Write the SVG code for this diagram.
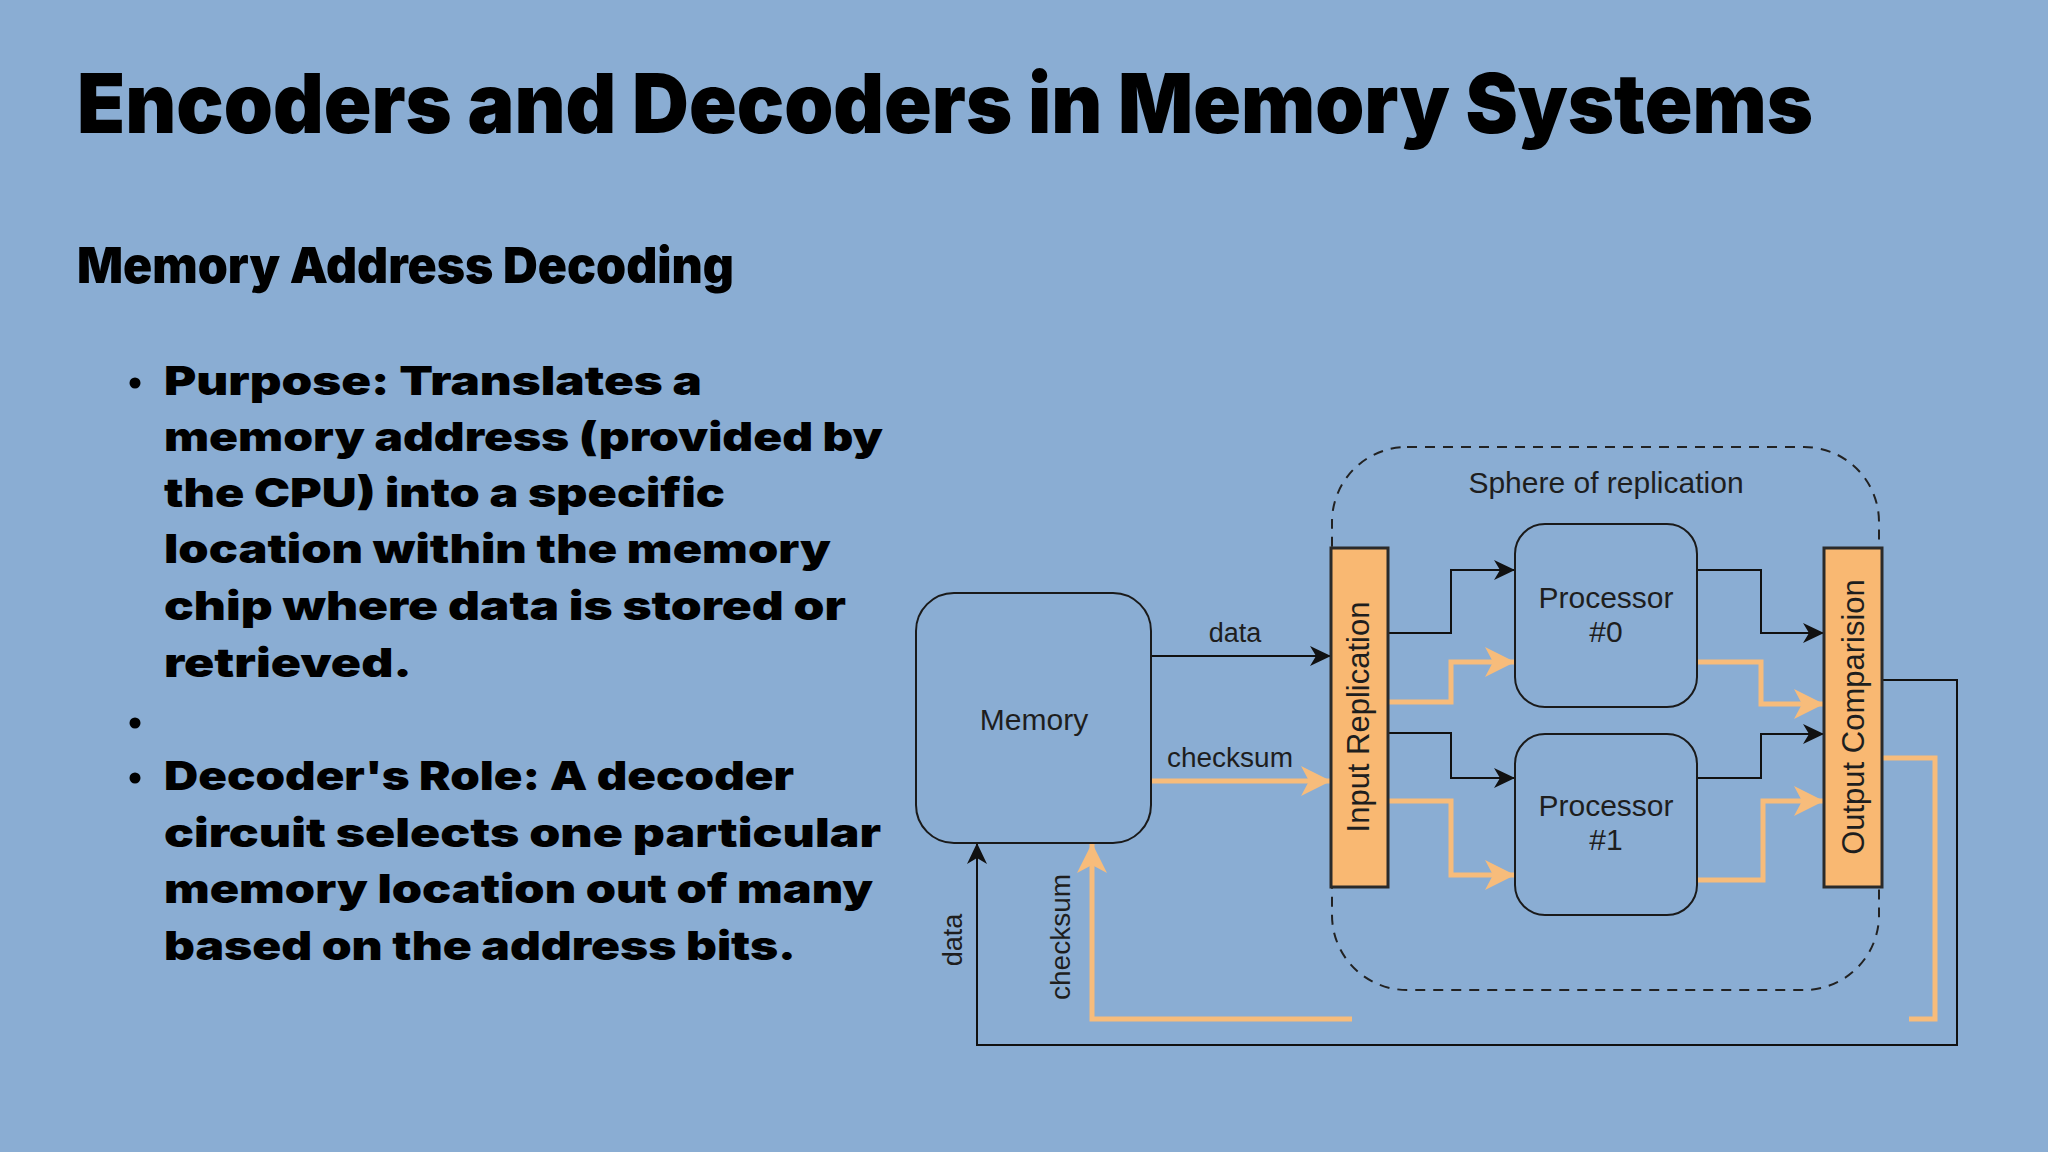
<svg xmlns="http://www.w3.org/2000/svg" width="2048" height="1152" viewBox="0 0 2048 1152">
<style>
.bg{fill:#8AADD3}
.h{font-family:Inter,"Liberation Sans",sans-serif;font-weight:900;fill:#000}
.b{font-family:Inter,"Liberation Sans",sans-serif;font-weight:900;font-size:40px;fill:#000}
.d{font-family:"Liberation Sans",Arial,sans-serif;fill:#1e1e1e}
.box{fill:none;stroke:#1a1a1a;stroke-width:2}
.bar{fill:#F9B872;stroke:#2a2a2a;stroke-width:3}
.k{fill:none;stroke:#111;stroke-width:2}
.o{fill:none;stroke:#F7BC7B;stroke-width:5}
.sph{fill:none;stroke:#222;stroke-width:2;stroke-dasharray:10 8}
</style>
<defs>
<marker id="ab" markerUnits="userSpaceOnUse" markerWidth="22" markerHeight="22" viewBox="0 0 22 22" refX="21" refY="11" orient="auto"><path d="M0,1 L21,11 L0,21 L6,11 z" fill="#111"/></marker>
<marker id="ao" markerUnits="userSpaceOnUse" markerWidth="32" markerHeight="32" viewBox="0 0 32 32" refX="30" refY="16" orient="auto"><path d="M0,1 L30,16 L0,31 L8,16 z" fill="#F7BC7B"/></marker>
</defs>
<rect class="bg" x="0" y="0" width="2048" height="1152"/>
<g id="title">
<text class="h" x="77" y="133" font-size="83" textLength="1736" lengthAdjust="spacingAndGlyphs">Encoders and Decoders in Memory Systems</text>
<text class="h" x="77" y="283" font-size="50" textLength="657" lengthAdjust="spacingAndGlyphs">Memory Address Decoding</text>
</g>
<g id="bullets">
<circle cx="135" cy="383" r="5.5"/>
<circle cx="135" cy="723" r="5.5"/>
<circle cx="135" cy="778" r="5.5"/>
<text class="b" x="164" y="395" textLength="538" lengthAdjust="spacingAndGlyphs">Purpose: Translates a</text>
<text class="b" x="164" y="451" textLength="719" lengthAdjust="spacingAndGlyphs">memory address (provided by</text>
<text class="b" x="164" y="507" textLength="561" lengthAdjust="spacingAndGlyphs">the CPU) into a specific</text>
<text class="b" x="164" y="563" textLength="667" lengthAdjust="spacingAndGlyphs">location within the memory</text>
<text class="b" x="164" y="620" textLength="682" lengthAdjust="spacingAndGlyphs">chip where data is stored or</text>
<text class="b" x="164" y="677" textLength="248" lengthAdjust="spacingAndGlyphs">retrieved.</text>
<text class="b" x="164" y="790" textLength="630" lengthAdjust="spacingAndGlyphs">Decoder's Role: A decoder</text>
<text class="b" x="164" y="847" textLength="717" lengthAdjust="spacingAndGlyphs">circuit selects one particular</text>
<text class="b" x="164" y="903" textLength="709" lengthAdjust="spacingAndGlyphs">memory location out of many</text>
<text class="b" x="164" y="960" textLength="632" lengthAdjust="spacingAndGlyphs">based on the address bits.</text>
</g>
<g id="sphere">
<rect class="sph" x="1332" y="447" width="547" height="543" rx="75"/>
<text class="d" x="1606" y="493" font-size="30" text-anchor="middle">Sphere of replication</text>
</g>
<g id="connectors">
<path class="k" d="M1151,656 H1331" marker-end="url(#ab)"/>
<path class="o" d="M1151,781 H1331" marker-end="url(#ao)"/>
<path class="k" d="M1388,633 H1451 V570 H1515" marker-end="url(#ab)"/>
<path class="o" d="M1388,702 H1451 V662 H1515" marker-end="url(#ao)"/>
<path class="k" d="M1388,733 H1451 V778 H1515" marker-end="url(#ab)"/>
<path class="o" d="M1388,801 H1451 V875 H1515" marker-end="url(#ao)"/>
<path class="k" d="M1697,570 H1761 V633 H1824" marker-end="url(#ab)"/>
<path class="o" d="M1697,662 H1761 V704 H1824" marker-end="url(#ao)"/>
<path class="k" d="M1697,778 H1761 V734 H1824" marker-end="url(#ab)"/>
<path class="o" d="M1697,880 H1763 V801 H1824" marker-end="url(#ao)"/>
<path class="k" d="M1882,680 H1957 V1045 H977 V843" marker-end="url(#ab)"/>
<path class="o" d="M1882,758 H1935 V1019 H1909"/>
<path class="o" d="M1352,1019 H1092 V843" marker-end="url(#ao)"/>
<text class="d" x="1235" y="642" font-size="27" text-anchor="middle">data</text>
<text class="d" x="1230" y="767" font-size="28" text-anchor="middle">checksum</text>
<text class="d" transform="translate(962,940) rotate(-90)" font-size="27" text-anchor="middle">data</text>
<text class="d" transform="translate(1070,937) rotate(-90)" font-size="28" text-anchor="middle">checksum</text>
</g>
<g id="memory">
<rect class="box" x="916" y="593" width="235" height="250" rx="38"/>
<text class="d" x="1034" y="730" font-size="30" text-anchor="middle">Memory</text>
</g>
<g id="input-replication">
<rect class="bar" x="1331" y="548" width="57" height="339"/>
<text class="d" transform="translate(1369,717) rotate(-90)" font-size="31" text-anchor="middle">Input Replication</text>
</g>
<g id="processor0">
<rect class="box" x="1515" y="524" width="182" height="183" rx="30"/>
<text class="d" x="1606" y="608" font-size="30" text-anchor="middle">Processor</text>
<text class="d" x="1606" y="642" font-size="30" text-anchor="middle">#0</text>
</g>
<g id="processor1">
<rect class="box" x="1515" y="734" width="182" height="181" rx="30"/>
<text class="d" x="1606" y="816" font-size="30" text-anchor="middle">Processor</text>
<text class="d" x="1606" y="850" font-size="30" text-anchor="middle">#1</text>
</g>
<g id="output-comparison">
<rect class="bar" x="1824" y="548" width="58" height="339"/>
<text class="d" transform="translate(1864,717) rotate(-90)" font-size="31" text-anchor="middle">Output Comparision</text>
</g>
</svg>
